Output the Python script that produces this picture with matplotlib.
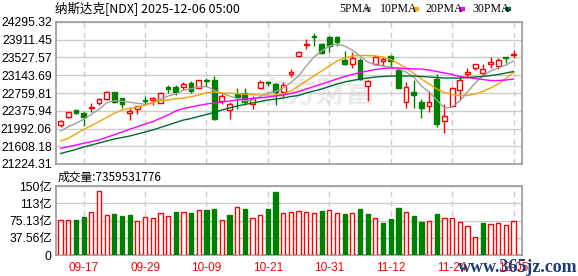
import numpy as np
import pandas as pd
import matplotlib
matplotlib.use('Agg')
import matplotlib.pyplot as plt
from matplotlib.lines import Line2D

# trading days on the chart (Thanksgiving 11-27 closed)
dates = pd.bdate_range('2025-09-12', '2025-12-05')
dates = dates[dates != pd.Timestamp('2025-11-27')]

open_ = [22074, 22247, 22386, 22321, 22442, 22537, 22624, 22775, 22645, 22321,
         22407, 22602, 22602, 22550, 22890, 22900, 22896, 22976, 22868, 23041,
         23041, 22587, 22392, 22738, 22766, 22515, 22861, 22991, 22954, 22775,
         23160, 23567, 23804, 23992, 23819, 23971, 23977, 23473, 23380, 23473,
         22911, 23387, 23452, 23567, 23257, 22572, 22788, 22572, 22472, 23063,
         22161, 22485, 22825, 23171, 23307, 23186, 23387, 23344, 23532, 23588]
high = [22176, 22355, 22392, 22342, 22537, 22652, 22810, 22781, 22652, 22442,
        22485, 22688, 22673, 22781, 22926, 22933, 23004, 23019, 23041, 23078,
        23134, 22753, 22572, 22861, 22861, 22695, 23041, 23019, 22976, 23004,
        23279, 23668, 23928, 24057, 23841, 23992, 23999, 23668, 23653, 23510,
        23041, 23582, 23532, 23582, 23294, 23004, 23041, 22630, 22810, 23164,
        22515, 22896, 23112, 23307, 23387, 23380, 23532, 23510, 23532, 23690]
low = [22031, 22219, 22306, 22046, 22342, 22507, 22602, 22537, 22429, 22176,
       22299, 22500, 22500, 22537, 22753, 22710, 22825, 22766, 22861, 22896,
       22176, 22515, 22191, 22407, 22500, 22407, 22846, 22918, 22500, 22680,
       23112, 23532, 23711, 23783, 23597, 23653, 23783, 23365, 23307, 23041,
       22587, 23365, 23337, 23307, 22861, 22442, 22429, 22226, 22355, 22031,
       21888, 22464, 22608, 23091, 23257, 23134, 23307, 23279, 23415, 23523]
close = [22148, 22342, 22334, 22234, 22457, 22624, 22781, 22572, 22515, 22377,
         22472, 22580, 22658, 22766, 22853, 22788, 22954, 22803, 23034, 23026,
         22191, 22695, 22515, 22667, 22572, 22624, 23004, 22970, 22788, 22933,
         23214, 23640, 23826, 23971, 23618, 23783, 23869, 23380, 23510, 23063,
         23019, 23538, 23489, 23452, 22874, 22896, 22717, 22442, 22559, 22083,
         22262, 22861, 23041, 23214, 23380, 23279, 23424, 23473, 23517, 23610]

ma5 = [21938, 22031, 22105, 22191, 22299, 22407, 22550, 22593, 22580, 22559,
       22537, 22515, 22550, 22624, 22695, 22738, 22818, 22853, 22890, 22905,
       22818, 22753, 22695, 22641, 22587, 22608, 22684, 22760, 22792, 22868,
       22991, 23127, 23344, 23538, 23668, 23776, 23819, 23776, 23690, 23560,
       23430, 23365, 23344, 23322, 23279, 23214, 23106, 22911, 22781, 22608,
       22435, 22457, 22587, 22781, 22976, 23127, 23236, 23300, 23365, 23452]
ma10 = [21722, 21780, 21873, 21975, 22053, 22139, 22234, 22321, 22392, 22429,
        22457, 22494, 22559, 22593, 22608, 22637, 22652, 22680, 22717, 22766,
        22781, 22760, 22753, 22745, 22738, 22723, 22717, 22717, 22710, 22738,
        22803, 22911, 23019, 23127, 23236, 23344, 23452, 23517, 23560, 23571,
        23571, 23560, 23538, 23484, 23398, 23300, 23182, 23063, 22954, 22846,
        22771, 22727, 22706, 22706, 22738, 22792, 22868, 22954, 23073, 23214]
ma20 = [21564, 21598, 21635, 21672, 21707, 21743, 21802, 21858, 21916, 21975,
        22031, 22089, 22139, 22213, 22284, 22371, 22425, 22457, 22490, 22522,
        22544, 22565, 22587, 22608, 22630, 22645, 22658, 22673, 22695, 22717,
        22749, 22792, 22846, 22900, 22954, 23009, 23063, 23117, 23160, 23203,
        23236, 23268, 23290, 23300, 23300, 23290, 23279, 23279, 23257, 23225,
        23192, 23160, 23117, 23095, 23073, 23052, 23030, 23030, 23041, 23063]
ma30 = [21451, 21495, 21538, 21592, 21635, 21678, 21722, 21765, 21797, 21830,
        21873, 21916, 21960, 22014, 22068, 22122, 22176, 22208, 22252, 22295,
        22338, 22392, 22435, 22479, 22511, 22544, 22576, 22608, 22630, 22652,
        22684, 22706, 22760, 22803, 22846, 22900, 22954, 22998, 23030, 23063,
        23084, 23106, 23117, 23127, 23127, 23127, 23127, 23117, 23106, 23095,
        23084, 23084, 23084, 23095, 23106, 23117, 23138, 23160, 23192, 23225]

# volume in 亿
volume = [77.0, 77.0, 75.5, 82.0, 92.9, 138.7, 86.4, 89.3, 84.9, 87.1,
          73.3, 82.0, 79.9, 90.8, 84.2, 92.9, 92.9, 90.8, 98.7, 97.3,
          99.5, 77.0, 86.4, 103.8, 100.9, 81.3, 86.4, 100.9, 136.5, 92.2,
          94.4, 96.6, 94.4, 90.8, 95.1, 98.7, 92.2, 88.6, 90.8, 99.5,
          89.3, 81.3, 69.7, 77.7, 101.6, 94.4, 84.2, 71.9, 73.3, 89.3,
          81.3, 81.3, 72.6, 62.4, 38.5, 69.7, 66.8, 69.0, 64.6, 73.6]

tick_labels = ['09-17', '09-29', '10-09', '10-21', '10-31', '11-12', '11-24', '12-05']
price_ticks = [21224.31, 21608.18, 21992.06, 22375.94, 22759.81,
               23143.69, 23527.57, 23911.45, 24295.32]
vol_max = 150.26
vol_labels = ['0', '37.56亿', '75.13亿', '113亿', '150亿']

title = '纳斯达克[NDX] 2025-12-06 05:00'
vol_title = '成交量:7359531776'

RED = '#ff0000'
GREEN = '#008000'
MA_COLORS = ['#a0a0a0', '#f5a300', '#ff00ff', '#006b35']
GRID = '#cccccc'
FRAME = '#999999'

plt.rcParams['font.family'] = ['Liberation Sans', 'Noto Sans CJK SC', 'DejaVu Sans']

fig = plt.figure(figsize=(5.78, 2.76), dpi=100)
W, H = 578, 276
ax = fig.add_axes([56 / W, 1 - 164 / H, 466 / W, 142 / H])
axv = fig.add_axes([56 / W, 1 - 255 / H, 466 / W, 69 / H], sharex=ax)

x = np.arange(len(close))
o, h, l, c = (np.array(v, dtype=float) for v in (open_, high, low, close))
up = c >= o
lo = np.minimum(o, c)
hi = np.maximum(o, c)

# watermark
ax.text(0.56, 0.5, '东方财富', transform=ax.transAxes, ha='center', va='center',
        fontsize=21, color='#ebebeb', family=['Noto Sans CJK SC'],
        fontweight='bold', zorder=0)

# candles
ax.vlines(x[up], l[up], h[up], color=RED, lw=1, zorder=2)
ax.vlines(x[~up], l[~up], h[~up], color=GREEN, lw=1, zorder=2)
ax.bar(x[up], hi[up] - lo[up], bottom=lo[up], width=0.62, facecolor='white',
       edgecolor=RED, lw=1, zorder=3)
ax.bar(x[~up], hi[~up] - lo[~up], bottom=lo[~up], width=0.62, facecolor=GREEN,
       edgecolor=GREEN, lw=1, zorder=3)

for ma, col in zip([ma5, ma10, ma20, ma30], MA_COLORS):
    ax.plot(x, ma, color=col, lw=1, zorder=4)

tick_pos = [i for i, d in enumerate(dates) if d.strftime('%m-%d') in tick_labels]

ax.set_xlim(-0.6, 60.1)
ax.set_ylim(price_ticks[0], price_ticks[-1])
ax.set_yticks(price_ticks)
ax.set_yticklabels([f'{v:.2f}' for v in price_ticks])
ax.set_xticks(tick_pos)
ax.tick_params(axis='x', labelbottom=False, length=0)
ax.tick_params(axis='y', length=0, pad=3, labelsize=8.8, labelcolor='#000000')
ax.grid(axis='y', color=GRID, lw=1, ls='-')
ax.grid(axis='x', color=GRID, lw=1, ls=(0, (4, 3)))
ax.set_axisbelow(True)

# volume
vol = np.array(volume)
prev = np.r_[o[0], c[:-1]]
vup = c >= prev
axv.bar(x[vup], vol[vup], width=0.55, facecolor='white', edgecolor=RED, lw=1, zorder=3)
axv.bar(x[~vup], vol[~vup], width=0.55, facecolor=GREEN, edgecolor=GREEN, lw=1, zorder=3)
vt = np.linspace(0, vol_max, 5)
axv.set_ylim(0, vol_max)
axv.set_yticks(vt)
axv.set_yticklabels(vol_labels)
axv.set_xticks(tick_pos)
axv.set_xticklabels(tick_labels)
axv.tick_params(axis='y', length=0, pad=3, labelsize=8.8)
axv.tick_params(axis='x', length=0, pad=5, labelsize=8.5, labelcolor=RED)
axv.grid(axis='y', color=GRID, lw=1, ls='-')
axv.grid(axis='x', color=GRID, lw=1, ls=(0, (4, 3)))
axv.set_axisbelow(True)

for a in (ax, axv):
    for s in a.spines.values():
        s.set_color(FRAME)
        s.set_linewidth(1.2)

# titles
fig.text(55 / W, 1 - 9 / H, title, ha='left', va='center', fontsize=9,
         family=['Noto Sans CJK SC'])
fig.text(58 / W, 1 - 177 / H, vol_title, ha='left', va='center', fontsize=8.5,
         family=['Noto Sans CJK SC'])

# legend
legend_names = ['5PMA', '10PMA', '20PMA', '30PMA']
legend_x = [339, 380, 425, 472]
mark_x = [365, 413, 459, 505]
for name, tx, mx, col in zip(legend_names, legend_x, mark_x, MA_COLORS):
    fig.text(tx / W, 1 - 9 / H, name, ha='left', va='center', fontsize=8.5,
             family=['Liberation Serif'])
    fig.add_artist(Line2D([mx / W, (mx + 6) / W], [1 - 9 / H, 1 - 9 / H],
                          color=col, lw=3, solid_capstyle='butt'))

# site mark
fig.text(1.0, 1 - 267 / H, 'www.365jz.com', ha='right', va='center', fontsize=13,
         color='#1c3d78', family=['Liberation Serif'], fontweight='bold', zorder=10)

fig.savefig('out.png', dpi=100, facecolor='white')
